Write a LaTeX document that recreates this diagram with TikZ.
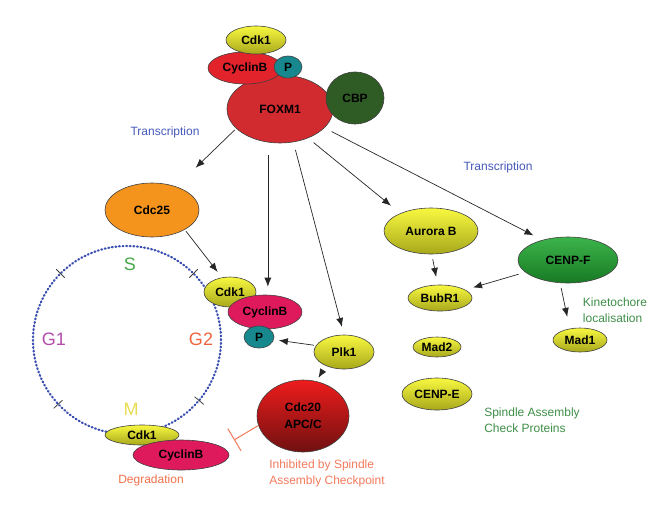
\documentclass[tikz,border=0pt]{standalone}
\usepackage{fontspec}
\setmainfont{Liberation Sans}
\usetikzlibrary{shapes.geometric,arrows.meta,calc}
\definecolor{ytop}{HTML}{F8F840}
\definecolor{ymid}{HTML}{EAEA30}
\definecolor{ybot}{HTML}{A8A81C}
\definecolor{foxred}{HTML}{D12A2F}
\definecolor{cycred}{HTML}{E3232B}
\definecolor{cycpink}{HTML}{DE1A5C}
\definecolor{pteal}{HTML}{17898E}
\definecolor{cbpgreen}{HTML}{2E5C24}
\definecolor{cdcorange}{HTML}{F4941C}
\definecolor{gtop}{HTML}{3CB44A}
\definecolor{gbot}{HTML}{177A24}
\definecolor{rtop}{HTML}{EE1C1C}
\definecolor{rbot}{HTML}{701010}
\definecolor{transblue}{HTML}{4458B8}
\definecolor{sgreen}{HTML}{45A845}
\definecolor{gonemag}{HTML}{B24BA8}
\definecolor{gtwoorg}{HTML}{F0643C}
\definecolor{myel}{HTML}{E8DC50}
\definecolor{degorg}{HTML}{F07048}
\definecolor{inhorg}{HTML}{F27A5C}
\definecolor{txtgreen}{HTML}{3E8E48}
\definecolor{dotblue}{HTML}{3A4FB0}
\tikzset{
  ent/.style={ellipse, draw=black!75, line width=0.6pt, inner sep=0pt, text=black,
    font=\bfseries\fontsize{12}{17}\selectfont},
  yel/.style={ent, top color=ytop, middle color=ymid, bottom color=ybot},
  grn/.style={ent, top color=gtop, bottom color=gbot},
  rdd/.style={ent, top color=rtop, middle color=rtop!80!black, bottom color=rbot},
  arr/.style={draw=black!85, line width=0.7pt, -{Latex[length=9pt,width=7pt]}},
  inhib/.style={draw=inhorg, line width=1pt, -{Bar[width=26pt,line width=1pt]}},
  lbl/.style={inner sep=0pt, font=\fontsize{12}{16}\selectfont},
  phase/.style={inner sep=0pt, font=\fontsize{18}{20}\selectfont},
  tickmark/.style={draw=black!75, line width=0.8pt},
  ringdots/.style={draw=dotblue, line width=2.2pt, line cap=round,
    dash pattern=on 0.9pt off 2.7pt}
}
\begin{document}
\begin{tikzpicture}[x=1pt,y=-1pt]
\useasboundingbox (0,0) rectangle (668,509);
% cell cycle ring
\node[circle, inner sep=0pt, minimum size=188pt] (ring) at (127,340) {};
\draw[ringdots] (ring.center) circle[radius=94pt];
\foreach \a in {135,45,223,320}{
  \draw[tickmark] ([shift={(\a:-6pt)}]ring.\a) -- ([shift={(\a:6pt)}]ring.\a);
}
\node[phase, text=sgreen] (S) at (130,264) {S};
\node[phase, text=gonemag] (G1) at (54,339) {G1};
\node[phase, text=gtwoorg] (G2) at (201,339) {G2};
\node[phase, text=myel] (M) at (131,409) {M};

% top complex
\node[ent, fill=foxred, minimum width=106pt, minimum height=68pt] (foxm1) at (280,109) {FOXM1};
\node[ent, fill=cycred, minimum width=74pt, minimum height=32pt] (cycA) at (245,68) {CyclinB};
\node[yel, minimum width=60pt, minimum height=28pt] (cdkA) at (256,40) {Cdk1};
\node[ent, fill=pteal, minimum width=28pt, minimum height=22pt] (pA) at (288,67) {P};
\node[ent, fill=cbpgreen, minimum width=58pt, minimum height=52pt] (cbp) at (355,98) {CBP};

% left branch
\node[ent, fill=cdcorange, minimum width=94pt, minimum height=54pt] (cdc25) at (152,210) {Cdc25};
\node[yel, minimum width=52pt, minimum height=30pt] (cdkB) at (230,292) {Cdk1};
\node[ent, fill=cycpink, minimum width=74pt, minimum height=34pt] (cycB) at (265,312) {CyclinB};
\node[ent, fill=pteal, minimum width=30pt, minimum height=22pt] (pB) at (259,337) {P};
\node[yel, minimum width=60pt, minimum height=34pt] (plk1) at (344,352) {Plk1};
\node[rdd, minimum width=92pt, minimum height=72pt, align=center] (cdc20) at (303,416) {Cdc20\\APC/C};
\node[yel, minimum width=74pt, minimum height=20pt] (cdkC) at (142,435) {Cdk1};
\node[ent, fill=cycpink, minimum width=96pt, minimum height=30pt] (cycC) at (181,455) {CyclinB};

% right branch
\node[yel, minimum width=94pt, minimum height=46pt] (aurora) at (431,231) {Aurora B};
\node[grn, minimum width=100pt, minimum height=46pt] (cenpf) at (568,260) {CENP-F};
\node[yel, minimum width=64pt, minimum height=26pt] (bubr1) at (440,298) {BubR1};
\node[yel, minimum width=48pt, minimum height=20pt] (mad2) at (437,347) {Mad2};
\node[yel, minimum width=70pt, minimum height=32pt] (cenpe) at (437,394) {CENP-E};
\node[yel, minimum width=54pt, minimum height=24pt] (mad1) at (580,340) {Mad1};

% labels
\node[lbl, text=transblue] (tr1) at (165,132) {Transcription};
\node[lbl, text=transblue] (tr2) at (498,167) {Transcription};
\node[lbl, text=degorg] (deg) at (151,480) {Degradation};
\node[lbl, text=inhorg, align=left] (inh) at (327,473) {Inhibited by Spindle\\Assembly Checkpoint};
\node[lbl, text=txtgreen, align=left] (kin) at (615,310) {Kinetochore\\localisation};
\node[lbl, text=txtgreen, align=left] (sac) at (532,420) {Spindle Assembly\\Check Proteins};

% connectors
\draw[arr, shorten <=2pt, shorten >=27pt] (foxm1.204) -- (cdc25);
\draw[arr, shorten <=13pt, shorten >=8pt] (foxm1.250) -- (foxm1.250 |- cycB.north);
\draw[arr, shorten <=8pt, shorten >=8pt] (foxm1.292) -- (plk1.north);
\draw[arr, shorten <=7pt, shorten >=12pt] (foxm1.314) -- (aurora.150);
\draw[arr, shorten <=8pt, shorten >=10pt] (foxm1.337) -- (cenpf.142);
\draw[arr, shorten <=2pt, shorten >=7pt] (cdc25.329) -- (cdkB.119);
\draw[arr, shorten <=2pt, shorten >=5pt] (plk1.167) -- (pB.350);
\draw[arr, shorten <=6pt, shorten >=4pt] (plk1.217) -- (cdc20.69);
\draw[arr, shorten <=5pt, shorten >=8pt] (aurora.272) -- (bubr1.100);
\draw[arr, shorten <=7pt, shorten >=8pt] (cenpf.196) -- (bubr1.18);
\draw[arr, shorten <=5pt, shorten >=12pt] (cenpf.251) -- (mad1.132);
\coordinate (inhend) at (234,440);
\draw[inhib] (cdc20.192) -- (inhend);
\end{tikzpicture}
\end{document}
